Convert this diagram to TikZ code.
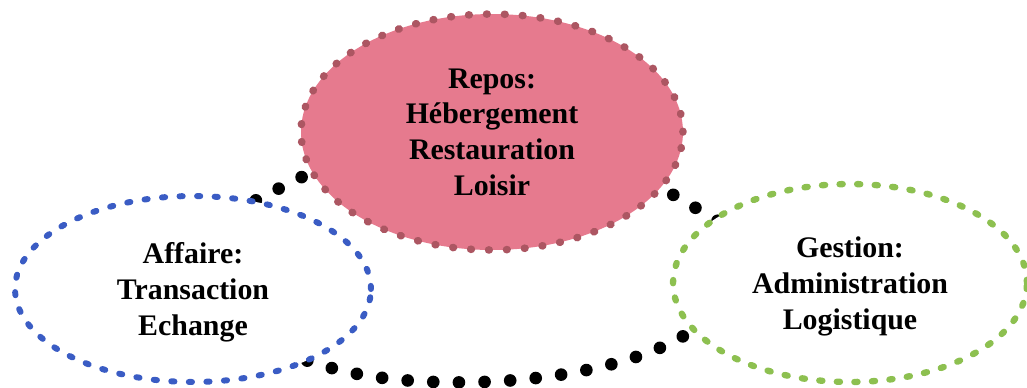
\documentclass[tikz,border=0pt]{standalone}
\usepackage{fontspec}
\setmainfont{Liberation Serif}
\usetikzlibrary{shapes.geometric}

\definecolor{reposfill}{RGB}{230,122,142}
\definecolor{reposdot}{RGB}{172,86,98}
\definecolor{affaireblue}{RGB}{58,92,196}
\definecolor{gestiongreen}{RGB}{141,192,80}

\tikzset{
  pole/.style={ellipse, inner sep=0pt, align=center, line cap=round, text depth=0pt,
    font=\bfseries\fontsize{17}{20.4}\selectfont},
  bluedots/.style={draw=affaireblue, line width=3.4pt, dash pattern=on 1.8pt off 8.2pt},
  greendots/.style={draw=gestiongreen, line width=3.6pt, dash pattern=on 1.8pt off 8.2pt},
  pinkdots/.style={draw=reposdot, line width=4.3pt, dash pattern=on 0.4pt off 9.8pt},
}

\begin{document}
\begin{tikzpicture}[x=0.02cm, y=-0.02cm]
\useasboundingbox (0,0) rectangle (1027,387);

%% black dotted loop, drawn first so the poles cover it
\draw[line width=7.2pt, line cap=round, dash pattern=on 0pt off 14.6pt]
  (485,85) -- (260,198) .. controls (200,228) and (230,345) .. (313,362)
  .. controls (400,395) and (600,390) .. (690,332)
  .. controls (760,290) and (760,245) .. (713,218) -- cycle;

%% poles
\node[pole, bluedots, fill=white, minimum width=71.2mm, minimum height=37.2mm]
  (affaire) at (193,289) {Affaire:\\Transaction\\Echange};   %% left
\node[pole, greendots, fill=white, minimum width=70.8mm, minimum height=39.6mm]
  (gestion) at (850,283) {Gestion:\\Administration\\Logistique};   %% right
\node[pole, pinkdots, fill=reposfill, minimum width=76.4mm, minimum height=47.2mm]
  (repos) at (492,132) {Repos:\\H\'ebergement\\Restauration\\Loisir};   %% top

\end{tikzpicture}
\end{document}
